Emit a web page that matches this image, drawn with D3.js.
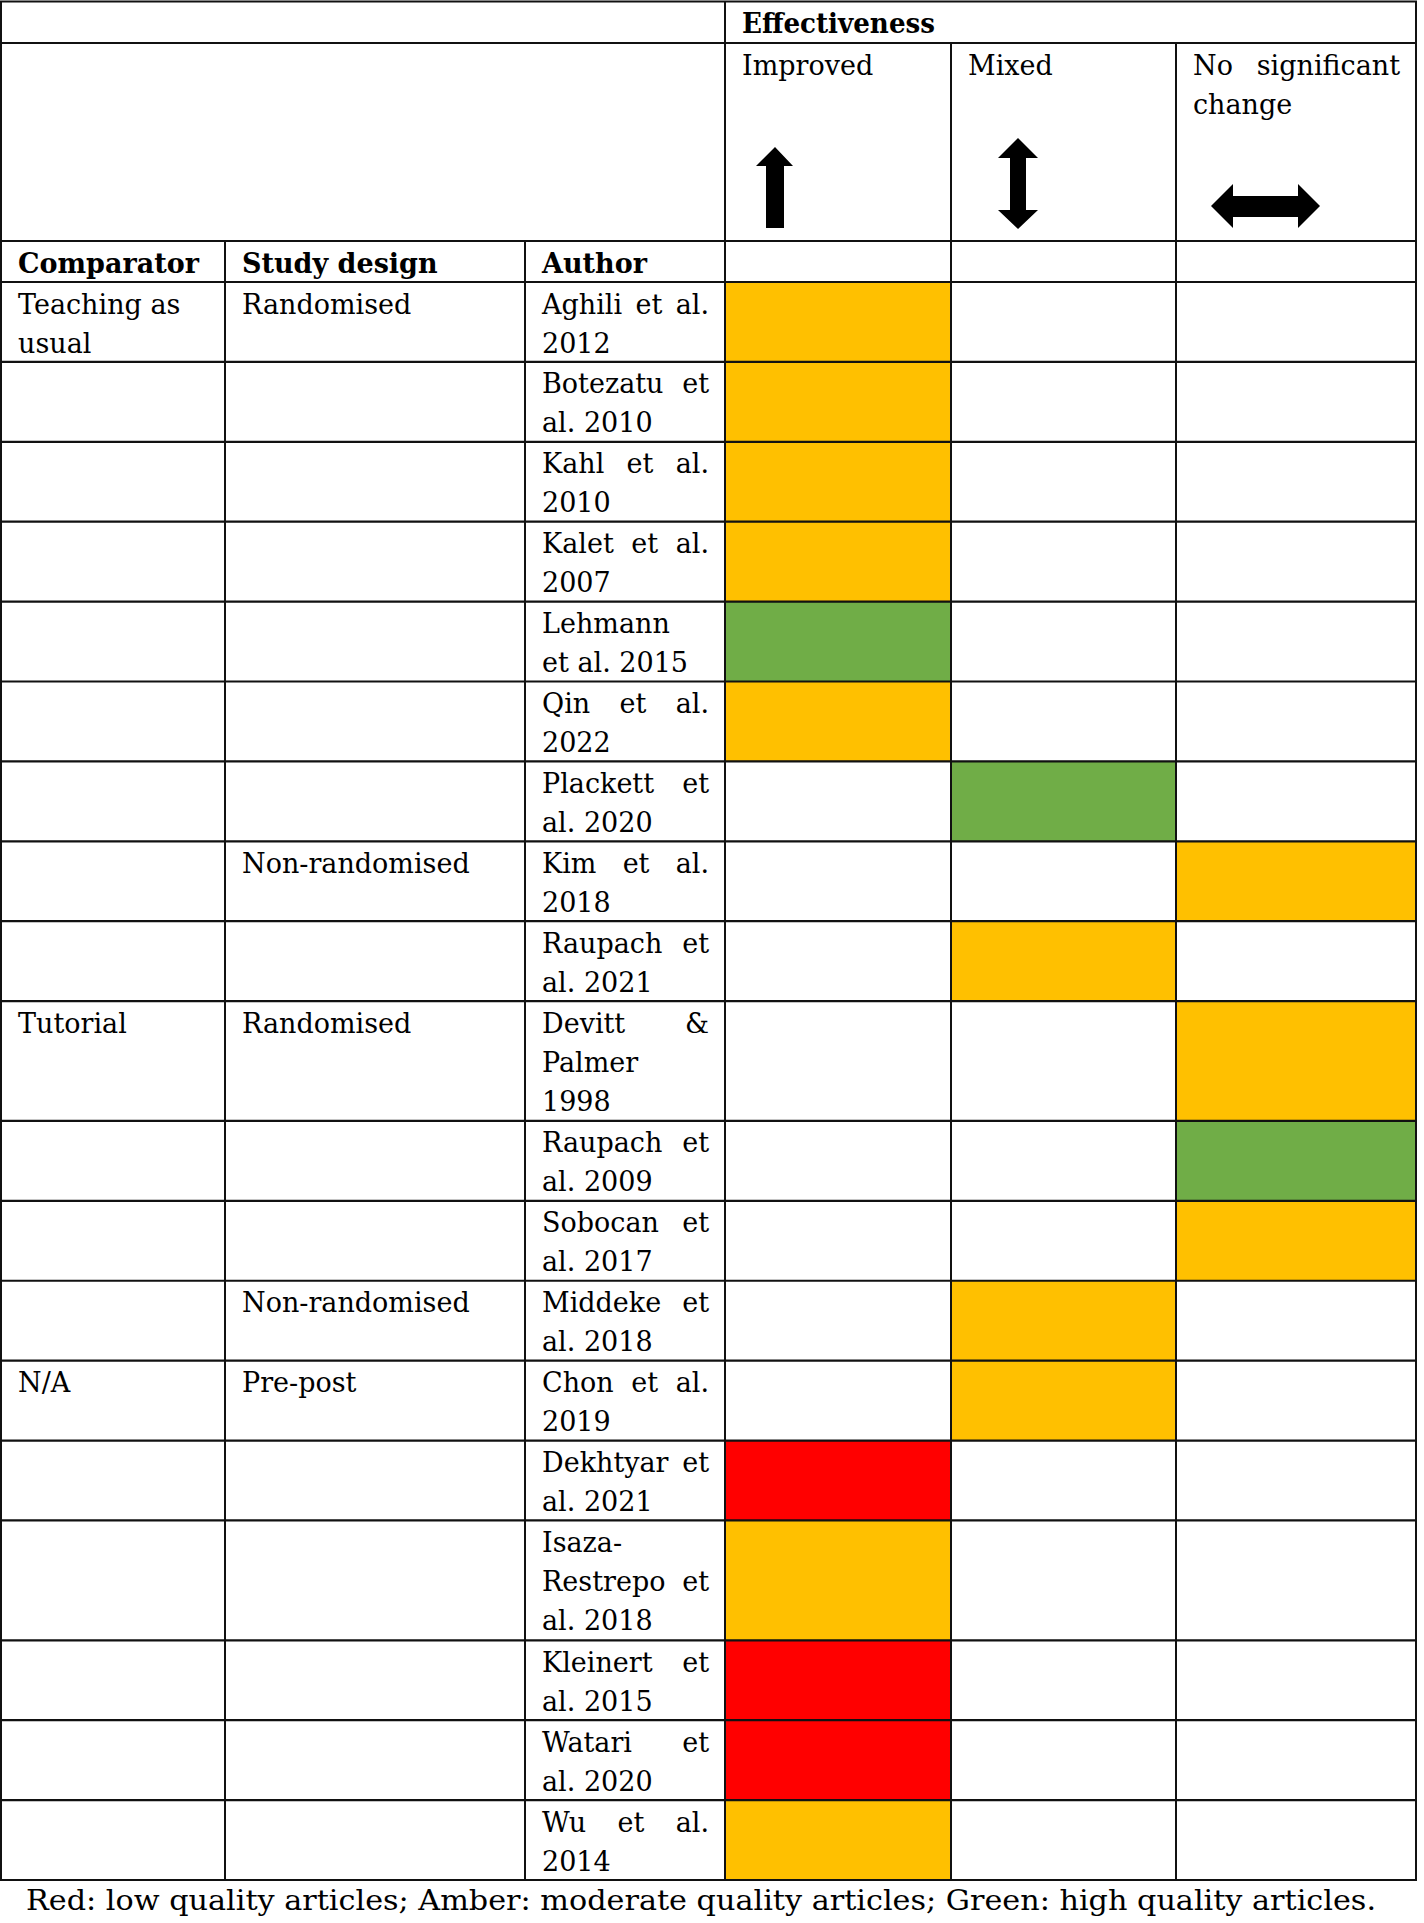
<!DOCTYPE html>
<html lang="en">
<head>
  <meta charset="utf-8" />
  <title>Effectiveness table</title>
  <script src="https://d3js.org/d3.v7.min.js"></script>
  <style>
    body { margin: 0; padding: 0; background: #ffffff; }
    svg text { font-family: "DejaVu Serif", serif; font-size: 27px; fill: #000; }
    svg text.bold { font-weight: bold; }
  </style>
</head>
<body>
<div id="chart"></div>
<script>
// ---- data ----
const outcomes = ["Improved", "Mixed", "No significant change"];
const comparators = [["Teaching as", "usual"], [], [], [], [], [], [], [], [],
  ["Tutorial"], [], [], [], ["N/A"], [], [], [], [], []];
const designs = ["Randomised", "", "", "", "", "", "", "Non-randomised", "",
  "Randomised", "", "", "Non-randomised", "Pre-post", "", "", "", "", ""];
const authors = [
  ["Aghili et al.", "2012"],
  ["Botezatu et", "al. 2010"],
  ["Kahl et al.", "2010"],
  ["Kalet et al.", "2007"],
  ["Lehmann", "et al. 2015"],
  ["Qin et al.", "2022"],
  ["Plackett et", "al. 2020"],
  ["Kim et al.", "2018"],
  ["Raupach et", "al. 2021"],
  ["Devitt &", "Palmer", "1998"],
  ["Raupach et", "al. 2009"],
  ["Sobocan et", "al. 2017"],
  ["Middeke et", "al. 2018"],
  ["Chon et al.", "2019"],
  ["Dekhtyar et", "al. 2021"],
  ["Isaza-", "Restrepo et", "al. 2018"],
  ["Kleinert et", "al. 2015"],
  ["Watari et", "al. 2020"],
  ["Wu et al.", "2014"]
];
const effects = ["Improved", "Improved", "Improved", "Improved", "Improved", "Improved",
  "Mixed", "No significant change", "Mixed", "No significant change",
  "No significant change", "No significant change", "Mixed", "Mixed",
  "Improved", "Improved", "Improved", "Improved", "Improved"];
const quality = ["Amber", "Amber", "Amber", "Amber", "Green", "Amber", "Green", "Amber",
  "Amber", "Amber", "Green", "Amber", "Amber", "Amber", "Red", "Amber", "Red", "Red", "Amber"];
const footnote = "Red: low quality articles; Amber: moderate quality articles; Green: high quality articles.";

// ---- layout ----
const W = 1424, H = 1923;
const colEdges = [1, 225, 525, 725, 951, 1176, 1416];
const padL = 17, padR = 16, lineH = 39, firstBase = 31.5;
const headTop = [1.5, 43, 241, 282];

const color = d3.scaleOrdinal()
  .domain(["Red", "Amber", "Green"])
  .range(["#FF0000", "#FFC000", "#70AD47"]);

const outX = d3.scaleOrdinal().domain(outcomes).range([3, 4, 5]);

// cumulative lines -> y
const nLines = authors.map(a => a.length);
const cum = [0];
nLines.forEach(n => cum.push(cum[cum.length - 1] + n));
const y = d3.scaleLinear().domain([0, cum[cum.length - 1]]).range([282, 1880]);
const rowTop = i => y(cum[i]);
const rowBot = i => y(cum[i + 1]);

const svg = d3.select("#chart").append("svg")
  .attr("width", W).attr("height", H);

// ---- cell fills ----
svg.append("g").selectAll("rect")
  .data(authors.map((a, i) => i))
  .join("rect")
    .attr("x", i => colEdges[outX(effects[i])])
    .attr("y", i => rowTop(i))
    .attr("width", i => colEdges[outX(effects[i]) + 1] - colEdges[outX(effects[i])])
    .attr("height", i => rowBot(i) - rowTop(i))
    .attr("fill", i => color(quality[i]));

// ---- text helper with justification ----
const textG = svg.append("g");
function measure(str, bold) {
  const t = textG.append("text").attr("class", bold ? "bold" : null).text(str);
  const w = t.node().getComputedTextLength();
  t.remove();
  return w;
}
function drawLine(str, x0, x1, base, justify, bold) {
  const words = str.split(" ");
  const full = measure(str, bold);
  const avail = x1 - x0;
  if (!justify || words.length < 2) {
    const t = textG.append("text").attr("class", bold ? "bold" : null)
      .attr("x", x0).attr("y", base).text(str);
    if (full > avail) t.attr("textLength", avail).attr("lengthAdjust", "spacingAndGlyphs");
    return;
  }
  const ws = words.map(w => measure(w, bold));
  const sum = d3.sum(ws);
  let gap = (avail - sum) / (words.length - 1);
  let k = 1;
  if (gap < 4) { k = (avail - 4 * (words.length - 1)) / sum; gap = 4; }
  let x = x0;
  words.forEach((w, j) => {
    const t = textG.append("text").attr("class", bold ? "bold" : null)
      .attr("x", x).attr("y", base).text(w);
    if (k < 1) t.attr("textLength", ws[j] * k).attr("lengthAdjust", "spacingAndGlyphs");
    x += ws[j] * k + gap;
  });
}
function drawPara(lines, col, top, justify, bold) {
  lines.forEach((ln, j) => {
    drawLine(ln, colEdges[col] + padL, colEdges[col + 1] - padR,
      top + firstBase + j * lineH, justify && j < lines.length - 1, bold);
  });
}

// ---- header text ----
drawPara(["Effectiveness"], 3, headTop[0], false, true);
drawPara(["Improved"], 3, headTop[1], false, false);
drawPara(["Mixed"], 4, headTop[1], false, false);
drawPara(["No significant", "change"], 5, headTop[1], true, false);
drawPara(["Comparator"], 0, headTop[2], false, true);
drawPara(["Study design"], 1, headTop[2], false, true);
drawPara(["Author"], 2, headTop[2], false, true);

// ---- body text ----
authors.forEach((a, i) => {
  if (comparators[i].length) drawPara(comparators[i], 0, rowTop(i), false, false);
  if (designs[i]) drawPara([designs[i]], 1, rowTop(i), false, false);
  drawPara(a, 2, rowTop(i), true, false);
});

// ---- arrows ----
const arrows = svg.append("g").attr("fill", "#000");
// up arrow (Improved)
arrows.append("path").attr("d",
  "M775,147 L793,166 L784,166 L784,228 L766,228 L766,166 L756,166 Z");
// vertical double arrow (Mixed)
arrows.append("path").attr("d",
  "M1018,138 L1038,158 L1026,158 L1026,210 L1038,210 L1018,229 L998,210 L1010,210 L1010,158 L998,158 Z");
// horizontal double arrow (No significant change)
arrows.append("path").attr("d",
  "M1211,206 L1233,184 L1233,196 L1298,196 L1298,184 L1320,206 L1298,228 L1298,217 L1233,217 L1233,228 Z");

// ---- grid lines ----
const grid = svg.append("g").attr("stroke", "#111").attr("stroke-width", 2.2);
const hLines = [headTop[0], headTop[1], headTop[2], headTop[3]]
  .concat(authors.map((a, i) => rowBot(i)));
grid.selectAll("line.h").data(hLines).join("line").attr("class", "h")
  .attr("x1", colEdges[0] - 1).attr("x2", colEdges[6] + 1)
  .attr("y1", d => d).attr("y2", d => d);
// verticals: header band 0 only outer + col 3; band 1 adds 4,5; body all
const vSegs = [];
[0, 3, 6].forEach(c => vSegs.push([c, headTop[0], headTop[1]]));
[0, 3, 4, 5, 6].forEach(c => vSegs.push([c, headTop[1], headTop[2]]));
[0, 1, 2, 3, 4, 5, 6].forEach(c => vSegs.push([c, headTop[2], 1880]));
grid.selectAll("line.v").data(vSegs).join("line").attr("class", "v")
  .attr("x1", d => colEdges[d[0]]).attr("x2", d => colEdges[d[0]])
  .attr("y1", d => d[1]).attr("y2", d => d[2])
  .attr("stroke-width", 2);

// ---- footnote ----
textG.append("text").attr("x", 26).attr("y", 1910)
  .attr("textLength", 1350).attr("lengthAdjust", "spacingAndGlyphs")
  .text(footnote);
</script>
</body>
</html>
